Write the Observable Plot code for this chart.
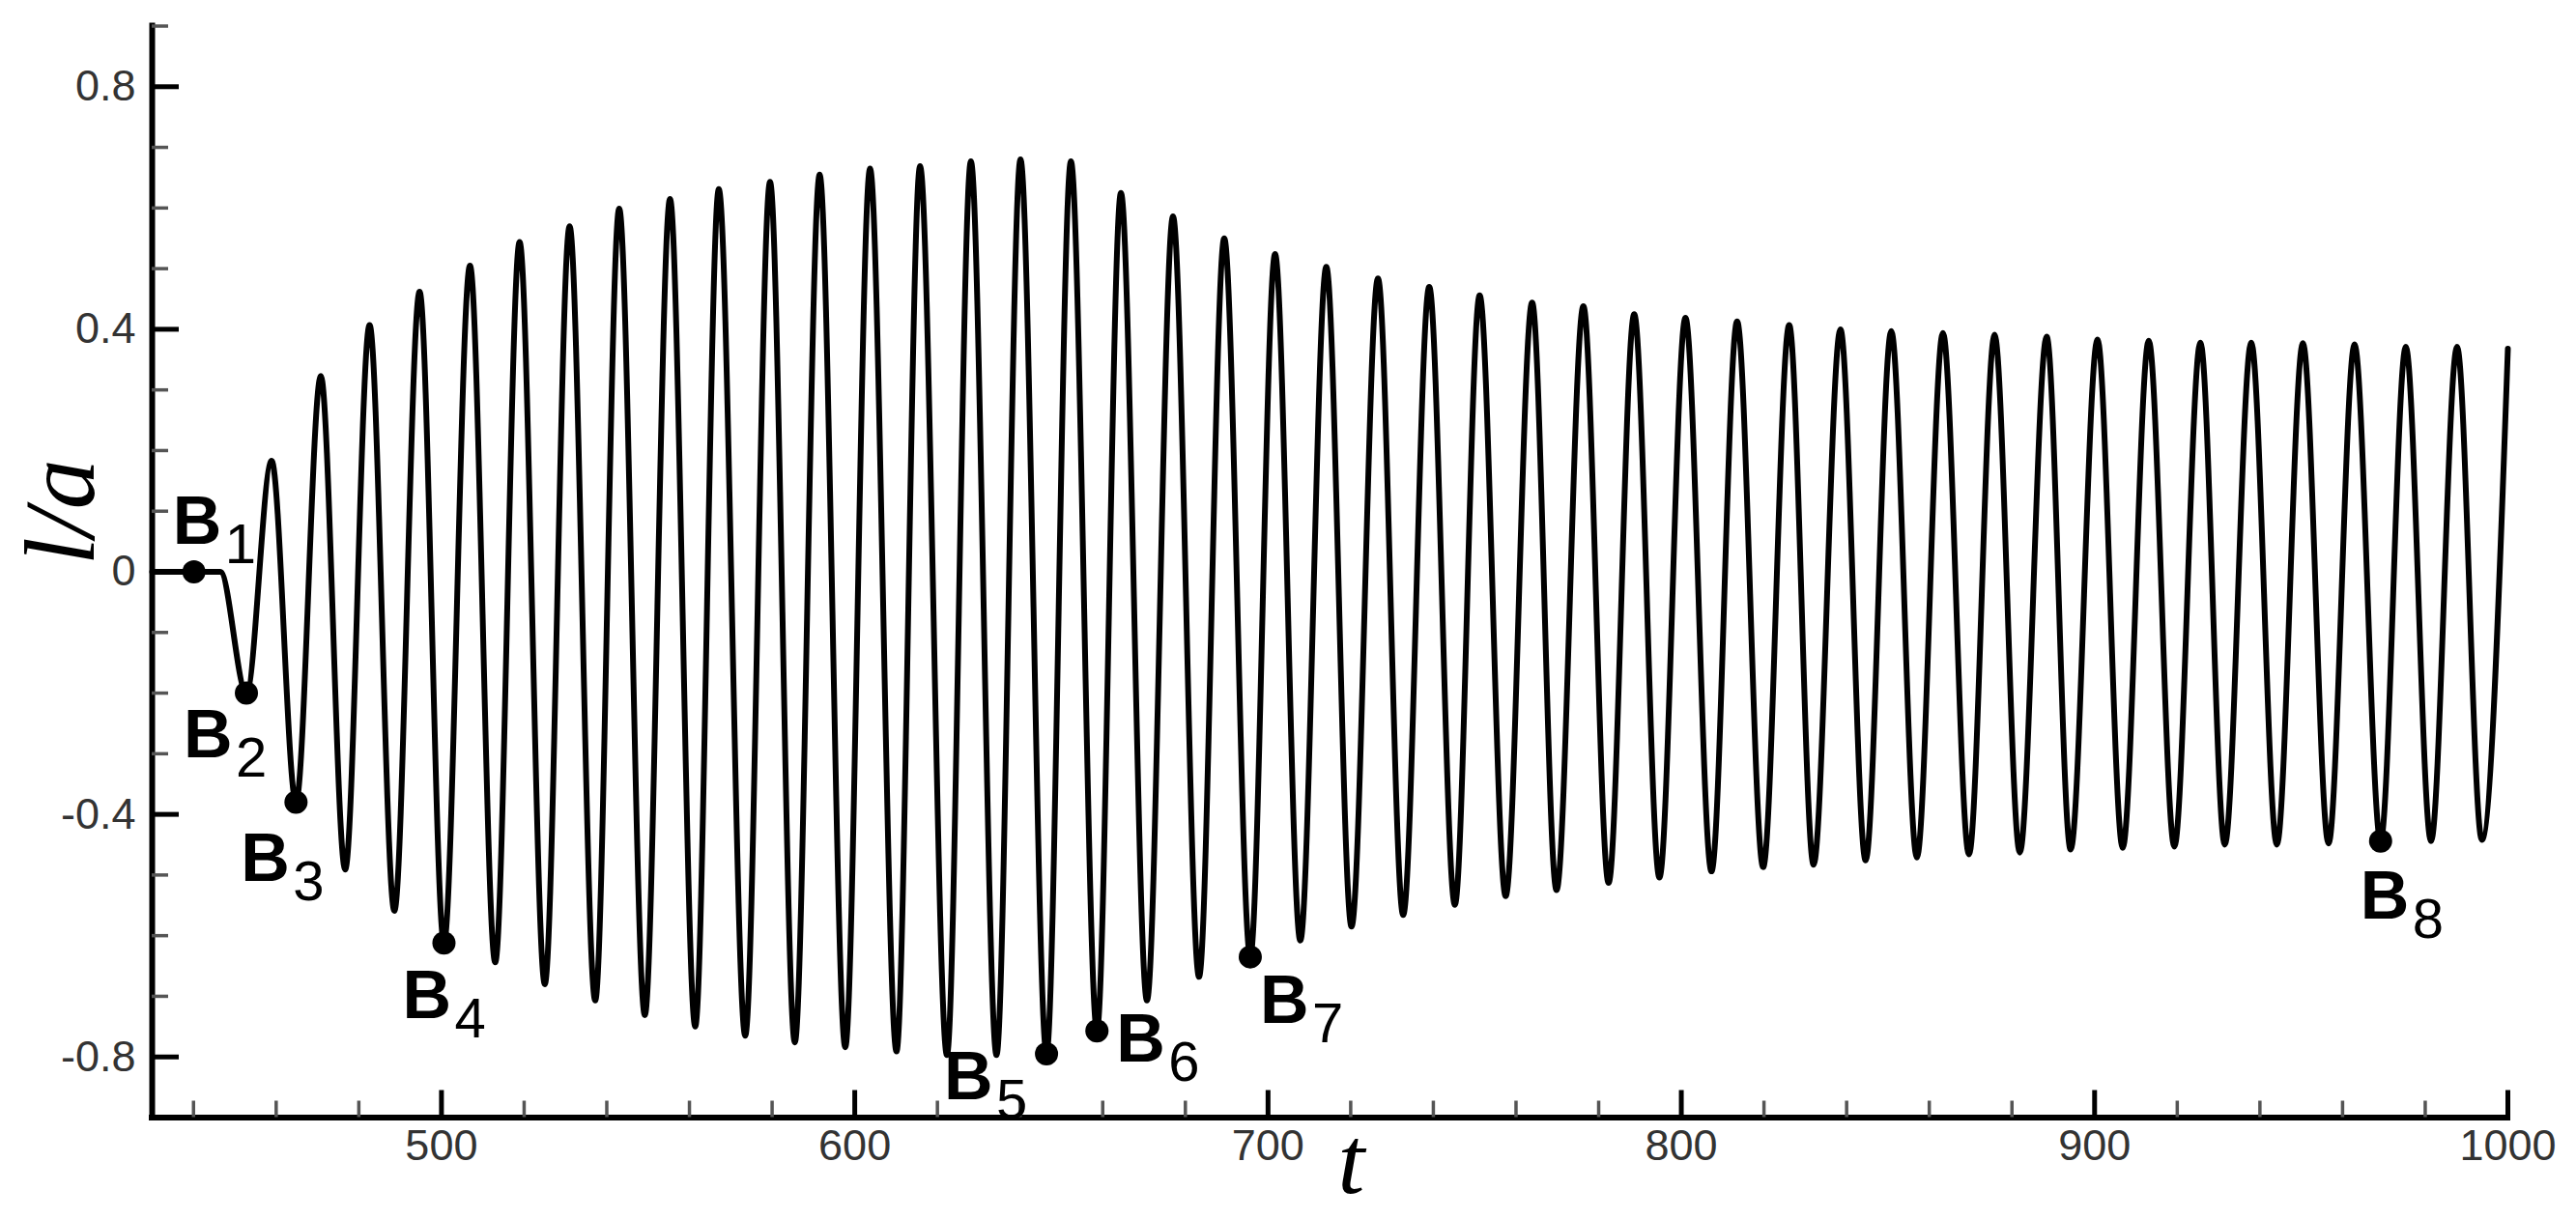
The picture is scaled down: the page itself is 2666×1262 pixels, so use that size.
<!DOCTYPE html>
<html>
<head>
<meta charset="utf-8">
<script src="https://cdn.jsdelivr.net/npm/d3@7"></script>
<script src="https://cdn.jsdelivr.net/npm/@observablehq/plot@0.6"></script>
<style>
  html, body { margin: 0; padding: 0; background: #fff; }
  #chart svg { display: block; }
</style>
</head>
<body>
<div id="chart"></div>
<script>
// ---------- data ----------
const xDomain = [430, 1000];
const yDomain = [-0.9, 0.9];
const xMajorTicks = [500, 600, 700, 800, 900, 1000];
const xMajorLabels = ["500", "600", "700", "800", "900", "1000"];
const xMinorTicks = [440, 460, 480, 520, 540, 560, 580, 620, 640, 660, 680, 720, 740, 760, 780, 820, 840, 860, 880, 920, 940, 960, 980];
const yMajorTicks = [-0.8, -0.4, 0, 0.4, 0.8];
const yMajorLabels = ["-0.8", "-0.4", "0", "0.4", "0.8"];
const yMinorTicks = [-0.7, -0.6, -0.5, -0.3, -0.2, -0.1, 0.1, 0.2, 0.3, 0.5, 0.6, 0.7, 0.9];

// time of each turning point of l/a
const tValues = [
  430, 440.1, 446.5, 452.8, 458.9, 464.8, 470.8, 476.7, 482.6, 488.6,
  494.7, 500.6, 506.9, 513.0, 518.9, 525.0, 531.0, 537.2, 543.0, 549.2,
  555.3, 561.4, 567.1, 573.5, 579.5, 585.5, 591.5, 597.7, 603.7, 610.1,
  615.8, 622.3, 628.1, 634.3, 640.1, 646.4, 652.3, 658.6, 664.4, 670.7,
  677.0, 683.3, 689.4, 695.7, 701.7, 707.8, 714.1, 720.2, 726.6, 732.7,
  739.0, 745.2, 751.2, 757.5, 763.9, 769.8, 776.3, 782.4, 788.6, 794.7,
  801.0, 807.3, 813.5, 819.8, 826.1, 832.0, 838.5, 844.6, 850.8, 857.0,
  863.3, 869.6, 875.8, 881.9, 888.4, 894.2, 900.7, 906.8, 913.1, 919.3,
  925.6, 931.5, 937.9, 944.1, 950.4, 956.6, 962.9, 969.2, 975.3, 981.4,
  987.7, 993.7, 1000
];
// value of l/a at each turning point
const laValues = [
  0, 0, 0, -0.200, 0.183, -0.380, 0.323, -0.491, 0.407, -0.559,
  0.462, -0.612, 0.505, -0.644, 0.544, -0.680, 0.570, -0.707, 0.599, -0.731,
  0.615, -0.750, 0.631, -0.765, 0.643, -0.776, 0.655, -0.784, 0.665, -0.791,
  0.669, -0.797, 0.677, -0.797, 0.680, -0.795, 0.677, -0.757, 0.625, -0.707,
  0.586, -0.668, 0.550, -0.635, 0.524, -0.608, 0.503, -0.585, 0.484, -0.566,
  0.470, -0.549, 0.456, -0.535, 0.444, -0.525, 0.438, -0.513, 0.425, -0.504,
  0.419, -0.494, 0.413, -0.487, 0.407, -0.483, 0.400, -0.476, 0.397, -0.471,
  0.394, -0.466, 0.391, -0.463, 0.388, -0.458, 0.383, -0.455, 0.381, -0.453,
  0.378, -0.450, 0.378, -0.450, 0.377, -0.448, 0.375, -0.444, 0.371, -0.444,
  0.371, -0.442, 0.368
];

// marked points B1..B8
const markerLetter = "B";
const markerSubs = ["1", "2", "3", "4", "5", "6", "7", "8"];
const markerT = [440.1, 452.8, 464.8, 500.6, 646.4, 658.6, 695.7, 969.2];
const markerLa = [0, -0.200, -0.380, -0.612, -0.795, -0.757, -0.635, -0.444];

// ---------- layout (style, not data) ----------
const W = 2666, H = 1262;
const M = {top: 26.5, right: 71, bottom: 105.5, left: 157};
const innerW = W - M.left - M.right;
const innerH = H - M.top - M.bottom;
const labelOffsets = [[-22, -29], [-65, 66], [-57, 81], [-43, 78], [-106, 47], [20, 32], [10, 68], [-21, 80]];
const subShift = [54, 20];

const series = tValues.map((t, i) => ({t, la: laValues[i]}));
const markers = markerT.map((t, i) => ({t, la: markerLa[i], sub: markerSubs[i]}));

const sans = "'Liberation Sans', Arial, Helvetica, sans-serif";
const serif = "'Liberation Serif', 'Times New Roman', serif";

const marks = [
  Plot.line(series, {x: "t", y: "la", curve: "monotone-x", stroke: "#000", strokeWidth: 6, strokeLinejoin: "round"}),
  Plot.ruleX([xDomain[0]], {stroke: "#000", strokeWidth: 6, strokeLinecap: "square"}),
  Plot.ruleY([yDomain[0]], {stroke: "#000", strokeWidth: 6, strokeLinecap: "square"}),
  Plot.tickX(xMajorTicks, {x: d => d, insetTop: innerH - 28, stroke: "#000", strokeWidth: 5}),
  Plot.tickX(xMinorTicks, {x: d => d, insetTop: innerH - 17, stroke: "#555", strokeWidth: 3.5}),
  Plot.tickY(yMajorTicks, {y: d => d, insetRight: innerW - 28, stroke: "#000", strokeWidth: 5}),
  Plot.tickY(yMinorTicks, {y: d => d, insetRight: innerW - 17, stroke: "#555", strokeWidth: 3.5}),
  Plot.axisX(xMajorTicks, {tickSize: 0, tickPadding: 12, fontSize: 45, fontFamily: sans, color: "#333", label: null,
    tickFormat: d => xMajorLabels[xMajorTicks.indexOf(d)]}),
  Plot.axisY(yMajorTicks, {tickSize: 0, tickPadding: 17, fontSize: 45, fontFamily: sans, color: "#333", label: null,
    tickFormat: d => yMajorLabels[yMajorTicks.indexOf(d)]}),
  Plot.dot(markers, {x: "t", y: "la", r: 12, fill: "#000", stroke: null}),
  Plot.text(["t"], {text: d => d, frameAnchor: "bottom", dx: 22, dy: 78, lineAnchor: "bottom",
    fontFamily: serif, fontStyle: "italic", fontSize: 100, fill: "#000"}),
  Plot.text(["l/a"], {text: d => d, frameAnchor: "left", rotate: -90, dx: -61, dy: -7, lineAnchor: "bottom",
    fontFamily: serif, fontStyle: "italic", fontSize: 104, fill: "#000"})
];

markers.forEach((m, i) => {
  const [ox, oy] = labelOffsets[i];
  marks.push(Plot.text([m], {x: "t", y: "la", text: () => markerLetter, dx: ox, dy: oy,
    textAnchor: "start", lineAnchor: "bottom", fontFamily: sans, fontWeight: "bold", fontSize: 70, fill: "#000"}));
  marks.push(Plot.text([m], {x: "t", y: "la", text: "sub", dx: ox + subShift[0], dy: oy + subShift[1],
    textAnchor: "start", lineAnchor: "bottom", fontFamily: sans, fontSize: 58, fill: "#000"}));
});

const chart = Plot.plot({
  width: W,
  height: H,
  marginTop: M.top,
  marginRight: M.right,
  marginBottom: M.bottom,
  marginLeft: M.left,
  style: {background: "#fff", fontFamily: sans, overflow: "visible"},
  x: {domain: xDomain, axis: null, label: null},
  y: {domain: yDomain, axis: null, label: null},
  marks
});
document.getElementById("chart").appendChild(chart);
</script>
</body>
</html>
